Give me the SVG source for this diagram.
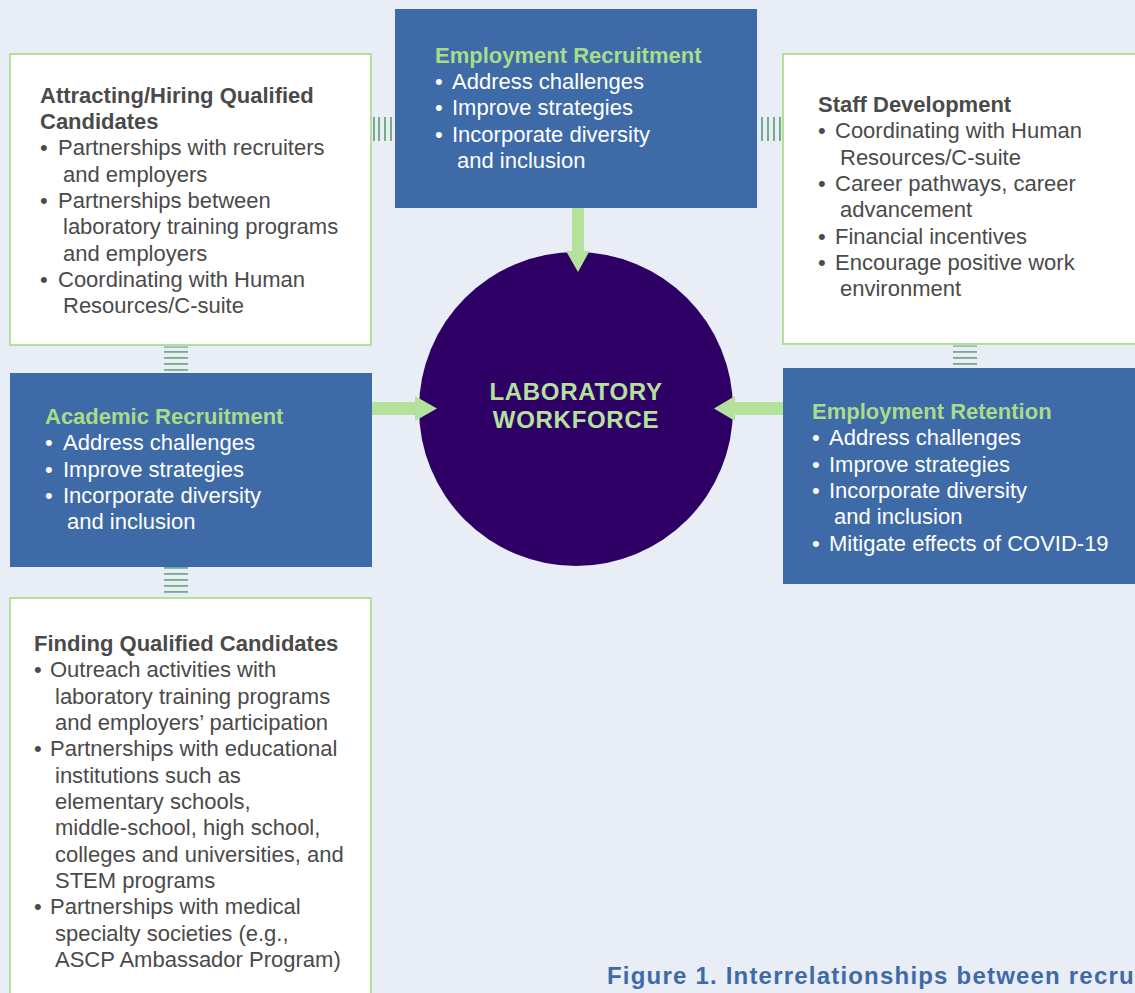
<svg xmlns="http://www.w3.org/2000/svg" width="1135" height="993" viewBox="0 0 1135 993">
<style>
.bg{fill:#E9EDF5}
.wbox{fill:#FFFFFF;stroke:#B4E09C;stroke-width:2}
.bbox{fill:#3E6AA8}
.stripe{fill:#74AB8A}
.arrow{fill:#B4E29C}
text{font-family:"Liberation Sans",Arial,Helvetica,sans-serif;font-size:22px}
.hd{font-weight:bold;fill:#4A4A4A}
.tx{fill:#4A4A4A}
.ghd{font-weight:bold;fill:#A8DC8A}
.wt{fill:#FFFFFF}
.ctr{font-weight:bold;fill:#B4E29C;font-size:24px;letter-spacing:0.7px;text-anchor:middle}
.title{font-weight:bold;fill:#3E6AA8;font-size:24px;letter-spacing:1.2px}
</style>
<rect class="bg" x="0" y="0" width="1135" height="993"/>

<g id="node-attracting">
  <rect class="wbox" x="10" y="54" width="361" height="291"/>
  <text class="hd" x="40" y="103">Attracting/Hiring Qualified</text>
  <text class="hd" x="40" y="129">Candidates</text>
  <text class="tx" y="155"><tspan x="40">•</tspan><tspan x="58">Partnerships with recruiters</tspan></text>
  <text class="tx" x="63" y="182">and employers</text>
  <text class="tx" y="208"><tspan x="40">•</tspan><tspan x="58">Partnerships between</tspan></text>
  <text class="tx" x="63" y="234">laboratory training programs</text>
  <text class="tx" x="63" y="261">and employers</text>
  <text class="tx" y="287"><tspan x="40">•</tspan><tspan x="58">Coordinating with Human</tspan></text>
  <text class="tx" x="63" y="313">Resources/C-suite</text>
</g>

<g id="node-employment-recruitment">
  <rect class="bbox" x="395" y="9" width="362" height="199"/>
  <text class="ghd" x="435" y="63">Employment Recruitment</text>
  <text class="wt" y="89"><tspan x="435">•</tspan><tspan x="452">Address challenges</tspan></text>
  <text class="wt" y="115"><tspan x="435">•</tspan><tspan x="452">Improve strategies</tspan></text>
  <text class="wt" y="142"><tspan x="435">•</tspan><tspan x="452">Incorporate diversity</tspan></text>
  <text class="wt" x="457" y="168">and inclusion</text>
</g>

<g id="node-staff-development">
  <rect class="wbox" x="783" y="54" width="360" height="290"/>
  <text class="hd" x="818" y="112">Staff Development</text>
  <text class="tx" y="138"><tspan x="818">•</tspan><tspan x="835">Coordinating with Human</tspan></text>
  <text class="tx" x="840" y="165">Resources/C-suite</text>
  <text class="tx" y="191"><tspan x="818">•</tspan><tspan x="835">Career pathways, career</tspan></text>
  <text class="tx" x="840" y="217">advancement</text>
  <text class="tx" y="244"><tspan x="818">•</tspan><tspan x="835">Financial incentives</tspan></text>
  <text class="tx" y="270"><tspan x="818">•</tspan><tspan x="835">Encourage positive work</tspan></text>
  <text class="tx" x="840" y="296">environment</text>
</g>

<g id="node-academic-recruitment">
  <rect class="bbox" x="10" y="373" width="362" height="194"/>
  <text class="ghd" x="45" y="424">Academic Recruitment</text>
  <text class="wt" y="450"><tspan x="45">•</tspan><tspan x="63">Address challenges</tspan></text>
  <text class="wt" y="477"><tspan x="45">•</tspan><tspan x="63">Improve strategies</tspan></text>
  <text class="wt" y="503"><tspan x="45">•</tspan><tspan x="63">Incorporate diversity</tspan></text>
  <text class="wt" x="67" y="529">and inclusion</text>
</g>

<g id="node-employment-retention">
  <rect class="bbox" x="783" y="368" width="360" height="216"/>
  <text class="ghd" x="812" y="419">Employment Retention</text>
  <text class="wt" y="445"><tspan x="812">•</tspan><tspan x="829">Address challenges</tspan></text>
  <text class="wt" y="472"><tspan x="812">•</tspan><tspan x="829">Improve strategies</tspan></text>
  <text class="wt" y="498"><tspan x="812">•</tspan><tspan x="829">Incorporate diversity</tspan></text>
  <text class="wt" x="834" y="524">and inclusion</text>
  <text class="wt" y="551"><tspan x="812">•</tspan><tspan x="829">Mitigate effects of COVID-19</tspan></text>
</g>

<g id="node-finding">
  <rect class="wbox" x="10" y="598" width="361" height="410"/>
  <text class="hd" x="34" y="651">Finding Qualified Candidates</text>
  <text class="tx" y="677"><tspan x="34">•</tspan><tspan x="50">Outreach activities with</tspan></text>
  <text class="tx" x="55" y="704">laboratory training programs</text>
  <text class="tx" x="55" y="730">and employers’ participation</text>
  <text class="tx" y="756"><tspan x="34">•</tspan><tspan x="50">Partnerships with educational</tspan></text>
  <text class="tx" x="55" y="783">institutions such as</text>
  <text class="tx" x="55" y="809">elementary schools,</text>
  <text class="tx" x="55" y="835">middle-school, high school,</text>
  <text class="tx" x="55" y="862">colleges and universities, and</text>
  <text class="tx" x="55" y="888">STEM programs</text>
  <text class="tx" y="914"><tspan x="34">•</tspan><tspan x="50">Partnerships with medical</tspan></text>
  <text class="tx" x="55" y="941">specialty societies (e.g.,</text>
  <text class="tx" x="55" y="967">ASCP Ambassador Program)</text>
</g>

<g id="node-laboratory-workforce">
  <circle cx="576" cy="409" r="157" fill="#2E0066"/>
  <text class="ctr" x="576" y="400">LABORATORY</text>
  <text class="ctr" x="576" y="428">WORKFORCE</text>
</g>

<g id="connectors">
  <g id="stripes-top-left">
    <rect class="stripe" x="373" y="117" width="2" height="24"/>
    <rect class="stripe" x="378" y="117" width="2" height="24"/>
    <rect class="stripe" x="384" y="117" width="2" height="24"/>
    <rect class="stripe" x="390" y="117" width="2" height="24"/>
  </g>
  <g id="stripes-top-right">
    <rect class="stripe" x="761" y="117" width="2" height="24"/>
    <rect class="stripe" x="767" y="117" width="2" height="24"/>
    <rect class="stripe" x="773" y="117" width="2" height="24"/>
    <rect class="stripe" x="779" y="117" width="2" height="24"/>
  </g>
  <g id="stripes-left-upper">
    <rect class="stripe" x="164" y="346.5" width="24" height="1.2"/>
    <rect class="stripe" x="164" y="351" width="24" height="1.8"/>
    <rect class="stripe" x="164" y="357" width="24" height="1.8"/>
    <rect class="stripe" x="164" y="363" width="24" height="1.8"/>
    <rect class="stripe" x="164" y="369" width="24" height="1.8"/>
  </g>
  <g id="stripes-left-lower">
    <rect class="stripe" x="164" y="567" width="24" height="1.8"/>
    <rect class="stripe" x="164" y="573" width="24" height="1.8"/>
    <rect class="stripe" x="164" y="579" width="24" height="1.8"/>
    <rect class="stripe" x="164" y="585" width="24" height="1.8"/>
    <rect class="stripe" x="164" y="591" width="24" height="1.8"/>
  </g>
  <g id="stripes-right">
    <rect class="stripe" x="953" y="345.5" width="24" height="1.2"/>
    <rect class="stripe" x="953" y="351" width="24" height="1.8"/>
    <rect class="stripe" x="953" y="357" width="24" height="1.8"/>
    <rect class="stripe" x="953" y="363" width="24" height="1.8"/>
  </g>
  <polygon class="arrow" points="372,402 415,402 415,396 437,408.5 415,421 415,415 372,415"/>
  <polygon class="arrow" points="783,402 735,402 735,396 714,408.5 735,421 735,415 783,415"/>
  <polygon class="arrow" points="572,208 584,208 584,251 589.5,251 578,272 566,251 572,251"/>
</g>

<text class="title" x="607" y="984">Figure 1. Interrelationships between recru</text>
</svg>
